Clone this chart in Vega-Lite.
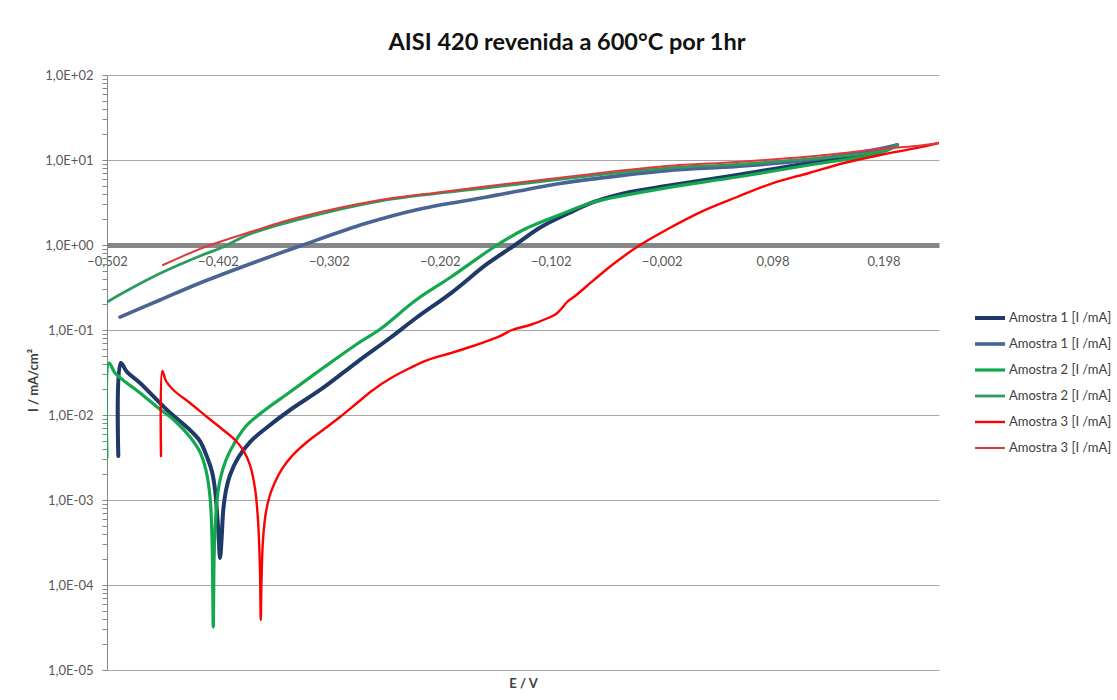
{
  "$schema": "https://vega.github.io/schema/vega-lite/v6.json",
  "width": 832,
  "height": 595,
  "autosize": {"type": "none"},
  "padding": {"left": 107, "top": 75, "right": 178, "bottom": 30},
  "background": "white",
  "config": {"view": {"stroke": null}, "font": "Lato"},
  "title": {
    "text": "AISI 420 revenida a 600°C por 1hr",
    "font": "Lato",
    "fontSize": 23.5,
    "fontWeight": "bold",
    "color": "#111111",
    "anchor": "middle",
    "frame": "group",
    "dx": 44,
    "offset": 15
  },
  "data": {
    "values": [
      {"s": "1a", "i": 1, "E": -0.4918, "I": 0.0033},
      {"s": "1a", "i": 2, "E": -0.4896, "I": 0.0409},
      {"s": "1a", "i": 3, "E": -0.484, "I": 0.0321},
      {"s": "1a", "i": 4, "E": -0.4722, "I": 0.0238},
      {"s": "1a", "i": 5, "E": -0.4479, "I": 0.01145},
      {"s": "1a", "i": 6, "E": -0.4272, "I": 0.00666},
      {"s": "1a", "i": 7, "E": -0.4182, "I": 0.00494},
      {"s": "1a", "i": 8, "E": -0.4118, "I": 0.00321},
      {"s": "1a", "i": 9, "E": -0.4073, "I": 0.00213},
      {"s": "1a", "i": 10, "E": -0.4046, "I": 0.00131},
      {"s": "1a", "i": 11, "E": -0.4017, "I": 0.000444},
      {"s": "1a", "i": 12, "E": -0.4001, "I": 0.000208},
      {"s": "1a", "i": 13, "E": -0.3986, "I": 0.000367},
      {"s": "1a", "i": 14, "E": -0.3972, "I": 0.000763},
      {"s": "1a", "i": 15, "E": -0.3947, "I": 0.00131},
      {"s": "1a", "i": 16, "E": -0.3911, "I": 0.00197},
      {"s": "1a", "i": 17, "E": -0.3839, "I": 0.00312},
      {"s": "1a", "i": 18, "E": -0.3731, "I": 0.00481},
      {"s": "1a", "i": 19, "E": -0.3596, "I": 0.00685},
      {"s": "1a", "i": 20, "E": -0.337, "I": 0.01145},
      {"s": "1a", "i": 21, "E": -0.3073, "I": 0.0208},
      {"s": "1a", "i": 22, "E": -0.2766, "I": 0.042},
      {"s": "1a", "i": 23, "E": -0.2469, "I": 0.0805},
      {"s": "1a", "i": 24, "E": -0.2234, "I": 0.1384},
      {"s": "1a", "i": 25, "E": -0.1919, "I": 0.272},
      {"s": "1a", "i": 26, "E": -0.1594, "I": 0.598},
      {"s": "1a", "i": 27, "E": -0.1369, "I": 0.947},
      {"s": "1a", "i": 28, "E": -0.1107, "I": 1.63},
      {"s": "1a", "i": 29, "E": -0.0855, "I": 2.38},
      {"s": "1a", "i": 30, "E": -0.063, "I": 3.21},
      {"s": "1a", "i": 31, "E": -0.0305, "I": 4.2},
      {"s": "1a", "i": 32, "E": 0.0019, "I": 4.94},
      {"s": "1a", "i": 33, "E": 0.066, "I": 6.66},
      {"s": "1a", "i": 34, "E": 0.1309, "I": 9.22},
      {"s": "1a", "i": 35, "E": 0.1949, "I": 12.4},
      {"s": "1a", "i": 36, "E": 0.2102, "I": 15.0},

      {"s": "1b", "i": 1, "E": 0.2102, "I": 15.0},
      {"s": "1b", "i": 2, "E": 0.1949, "I": 13.6},
      {"s": "1b", "i": 3, "E": 0.1309, "I": 10.0},
      {"s": "1b", "i": 4, "E": 0.066, "I": 8.4},
      {"s": "1b", "i": 5, "E": 0.0028, "I": 7.5},
      {"s": "1b", "i": 6, "E": -0.063, "I": 6.0},
      {"s": "1b", "i": 7, "E": -0.0936, "I": 5.3},
      {"s": "1b", "i": 8, "E": -0.1594, "I": 3.67},
      {"s": "1b", "i": 9, "E": -0.2198, "I": 2.65},
      {"s": "1b", "i": 10, "E": -0.2676, "I": 1.81},
      {"s": "1b", "i": 11, "E": -0.328, "I": 0.973},
      {"s": "1b", "i": 12, "E": -0.3731, "I": 0.598},
      {"s": "1b", "i": 13, "E": -0.4182, "I": 0.357},
      {"s": "1b", "i": 14, "E": -0.4542, "I": 0.2254},
      {"s": "1b", "i": 15, "E": -0.4903, "I": 0.142},

      {"s": "2a", "i": 1, "E": -0.502, "I": 0.00321},
      {"s": "2a", "i": 2, "E": -0.5002, "I": 0.0409},
      {"s": "2a", "i": 3, "E": -0.4948, "I": 0.0312},
      {"s": "2a", "i": 4, "E": -0.4876, "I": 0.0258},
      {"s": "2a", "i": 5, "E": -0.4722, "I": 0.01815},
      {"s": "2a", "i": 6, "E": -0.4569, "I": 0.01242},
      {"s": "2a", "i": 7, "E": -0.4407, "I": 0.0085},
      {"s": "2a", "i": 8, "E": -0.4272, "I": 0.00551},
      {"s": "2a", "i": 9, "E": -0.4182, "I": 0.00367},
      {"s": "2a", "i": 10, "E": -0.4128, "I": 0.00225},
      {"s": "2a", "i": 11, "E": -0.4091, "I": 0.00108},
      {"s": "2a", "i": 12, "E": -0.4073, "I": 0.000338},
      {"s": "2a", "i": 13, "E": -0.4062, "I": 0.000032},
      {"s": "2a", "i": 14, "E": -0.4055, "I": 0.000197},
      {"s": "2a", "i": 15, "E": -0.4046, "I": 0.000444},
      {"s": "2a", "i": 16, "E": -0.4028, "I": 0.001},
      {"s": "2a", "i": 17, "E": -0.4001, "I": 0.00172},
      {"s": "2a", "i": 18, "E": -0.3947, "I": 0.00296},
      {"s": "2a", "i": 19, "E": -0.3866, "I": 0.00481},
      {"s": "2a", "i": 20, "E": -0.3758, "I": 0.00762},
      {"s": "2a", "i": 21, "E": -0.3596, "I": 0.01145},
      {"s": "2a", "i": 22, "E": -0.337, "I": 0.01865},
      {"s": "2a", "i": 23, "E": -0.3073, "I": 0.0357},
      {"s": "2a", "i": 24, "E": -0.2766, "I": 0.0685},
      {"s": "2a", "i": 25, "E": -0.2559, "I": 0.102},
      {"s": "2a", "i": 26, "E": -0.2234, "I": 0.2254},
      {"s": "2a", "i": 27, "E": -0.1919, "I": 0.42},
      {"s": "2a", "i": 28, "E": -0.1531, "I": 0.947},
      {"s": "2a", "i": 29, "E": -0.127, "I": 1.5},
      {"s": "2a", "i": 30, "E": -0.0945, "I": 2.25},
      {"s": "2a", "i": 31, "E": -0.063, "I": 3.21},
      {"s": "2a", "i": 32, "E": 0.0019, "I": 4.69},
      {"s": "2a", "i": 33, "E": 0.066, "I": 6.31},
      {"s": "2a", "i": 34, "E": 0.1309, "I": 8.73},
      {"s": "2a", "i": 35, "E": 0.1949, "I": 12.1},
      {"s": "2a", "i": 36, "E": 0.2102, "I": 15.0},

      {"s": "2b", "i": 1, "E": 0.2102, "I": 15.0},
      {"s": "2b", "i": 2, "E": 0.1949, "I": 12.6},
      {"s": "2b", "i": 3, "E": 0.1309, "I": 10.3},
      {"s": "2b", "i": 4, "E": 0.066, "I": 8.9},
      {"s": "2b", "i": 5, "E": 0.0019, "I": 8.0},
      {"s": "2b", "i": 6, "E": -0.063, "I": 6.6},
      {"s": "2b", "i": 7, "E": -0.1594, "I": 4.7},
      {"s": "2b", "i": 8, "E": -0.2559, "I": 3.29},
      {"s": "2b", "i": 9, "E": -0.328, "I": 2.02},
      {"s": "2b", "i": 10, "E": -0.3731, "I": 1.35},
      {"s": "2b", "i": 11, "E": -0.3974, "I": 0.947},
      {"s": "2b", "i": 12, "E": -0.4182, "I": 0.743},
      {"s": "2b", "i": 13, "E": -0.4515, "I": 0.481},
      {"s": "2b", "i": 14, "E": -0.4813, "I": 0.304},
      {"s": "2b", "i": 15, "E": -0.502, "I": 0.2135},

      {"s": "3a", "i": 1, "E": -0.4533, "I": 0.0033},
      {"s": "3a", "i": 2, "E": -0.4521, "I": 0.0329},
      {"s": "3a", "i": 3, "E": -0.4488, "I": 0.0251},
      {"s": "3a", "i": 4, "E": -0.4422, "I": 0.01968},
      {"s": "3a", "i": 5, "E": -0.4272, "I": 0.01384},
      {"s": "3a", "i": 6, "E": -0.4118, "I": 0.00947},
      {"s": "3a", "i": 7, "E": -0.3972, "I": 0.00666},
      {"s": "3a", "i": 8, "E": -0.3866, "I": 0.00508},
      {"s": "3a", "i": 9, "E": -0.3794, "I": 0.00388},
      {"s": "3a", "i": 10, "E": -0.3731, "I": 0.00258},
      {"s": "3a", "i": 11, "E": -0.3686, "I": 0.00138},
      {"s": "3a", "i": 12, "E": -0.3659, "I": 0.000582},
      {"s": "3a", "i": 13, "E": -0.3641, "I": 0.00015},
      {"s": "3a", "i": 14, "E": -0.3634, "I": 0.0000387},
      {"s": "3a", "i": 15, "E": -0.3627, "I": 0.000115},
      {"s": "3a", "i": 16, "E": -0.3614, "I": 0.000338},
      {"s": "3a", "i": 17, "E": -0.3587, "I": 0.000722},
      {"s": "3a", "i": 18, "E": -0.3551, "I": 0.001145},
      {"s": "3a", "i": 19, "E": -0.3505, "I": 0.00163},
      {"s": "3a", "i": 20, "E": -0.3442, "I": 0.00232},
      {"s": "3a", "i": 21, "E": -0.3352, "I": 0.0033},
      {"s": "3a", "i": 22, "E": -0.3217, "I": 0.00481},
      {"s": "3a", "i": 23, "E": -0.3073, "I": 0.00666},
      {"s": "3a", "i": 24, "E": -0.292, "I": 0.00947},
      {"s": "3a", "i": 25, "E": -0.2766, "I": 0.01384},
      {"s": "3a", "i": 26, "E": -0.2622, "I": 0.01968},
      {"s": "3a", "i": 27, "E": -0.246, "I": 0.0272},
      {"s": "3a", "i": 28, "E": -0.2288, "I": 0.0357},
      {"s": "3a", "i": 29, "E": -0.2126, "I": 0.0444},
      {"s": "3a", "i": 30, "E": -0.1919, "I": 0.0536},
      {"s": "3a", "i": 31, "E": -0.1748, "I": 0.0631},
      {"s": "3a", "i": 32, "E": -0.1594, "I": 0.0742},
      {"s": "3a", "i": 33, "E": -0.1477, "I": 0.0849},
      {"s": "3a", "i": 34, "E": -0.1369, "I": 0.1},
      {"s": "3a", "i": 35, "E": -0.1207, "I": 0.1145},
      {"s": "3a", "i": 36, "E": -0.1044, "I": 0.1384},
      {"s": "3a", "i": 37, "E": -0.0972, "I": 0.1543},
      {"s": "3a", "i": 38, "E": -0.0918, "I": 0.1815},
      {"s": "3a", "i": 39, "E": -0.0873, "I": 0.2135},
      {"s": "3a", "i": 40, "E": -0.0801, "I": 0.251},
      {"s": "3a", "i": 41, "E": -0.063, "I": 0.388},
      {"s": "3a", "i": 42, "E": -0.0467, "I": 0.582},
      {"s": "3a", "i": 43, "E": -0.0215, "I": 1.0},
      {"s": "3a", "i": 44, "E": 0.0019, "I": 1.5},
      {"s": "3a", "i": 45, "E": 0.0335, "I": 2.45},
      {"s": "3a", "i": 46, "E": 0.066, "I": 3.67},
      {"s": "3a", "i": 47, "E": 0.0984, "I": 5.36},
      {"s": "3a", "i": 48, "E": 0.1309, "I": 7.03},
      {"s": "3a", "i": 49, "E": 0.1624, "I": 9.22},
      {"s": "3a", "i": 50, "E": 0.1949, "I": 11.45},
      {"s": "3a", "i": 51, "E": 0.2273, "I": 13.8},
      {"s": "3a", "i": 52, "E": 0.248, "I": 15.85},

      {"s": "3b", "i": 1, "E": 0.248, "I": 15.85},
      {"s": "3b", "i": 2, "E": 0.2273, "I": 14.6},
      {"s": "3b", "i": 3, "E": 0.1949, "I": 13.5},
      {"s": "3b", "i": 4, "E": 0.1624, "I": 12.1},
      {"s": "3b", "i": 5, "E": 0.1309, "I": 11.0},
      {"s": "3b", "i": 6, "E": 0.066, "I": 9.5},
      {"s": "3b", "i": 7, "E": 0.0019, "I": 8.5},
      {"s": "3b", "i": 8, "E": -0.063, "I": 6.9},
      {"s": "3b", "i": 9, "E": -0.1594, "I": 4.9},
      {"s": "3b", "i": 10, "E": -0.2072, "I": 4.1},
      {"s": "3b", "i": 11, "E": -0.2559, "I": 3.38},
      {"s": "3b", "i": 12, "E": -0.328, "I": 2.13},
      {"s": "3b", "i": 13, "E": -0.3731, "I": 1.42},
      {"s": "3b", "i": 14, "E": -0.4137, "I": 0.947},
      {"s": "3b", "i": 15, "E": -0.4515, "I": 0.582}
    ]
  },
  "mark": {"type": "line", "interpolate": "catmull-rom", "strokeJoin": "round", "strokeCap": "round", "clip": true},
  "encoding": {
    "x": {
      "field": "E",
      "type": "quantitative",
      "scale": {"domain": [-0.502, 0.248], "nice": false, "zero": false},
      "axis": {
        "values": [-0.502, -0.402, -0.302, -0.202, -0.102, -0.002, 0.098, 0.198],
        "labelExpr": "replace(format(datum.value, '.3f'), '.', ',')",
        "offset": -425,
        "domainColor": "#878787",
        "domainWidth": 5,
        "ticks": false,
        "grid": false,
        "labelPadding": 10,
        "labelFont": "Lato",
        "labelFontSize": 13,
        "labelColor": "#595959",
        "labelOverlap": false,
        "labelFlush": false,
        "title": "E / V",
        "titleFont": "Lato",
        "titleFontSize": 13,
        "titleFontWeight": "bold",
        "titleColor": "#404040",
        "titleX": 416,
        "titleY": 438,
        "titleBaseline": "middle",
        "titleAlign": "center"
      }
    },
    "y": {
      "field": "I",
      "type": "quantitative",
      "scale": {"type": "log", "domain": [0.00001, 100], "nice": false},
      "axis": {
        "values": [1e-5, 2e-5, 3e-5, 4e-5, 5e-5, 6e-5, 7e-5, 8e-5, 9e-5,
                   1e-4, 2e-4, 3e-4, 4e-4, 5e-4, 6e-4, 7e-4, 8e-4, 9e-4,
                   1e-3, 2e-3, 3e-3, 4e-3, 5e-3, 6e-3, 7e-3, 8e-3, 9e-3,
                   1e-2, 2e-2, 3e-2, 4e-2, 5e-2, 6e-2, 7e-2, 8e-2, 9e-2,
                   0.1, 0.2, 0.3, 0.4, 0.5, 0.6, 0.7, 0.8, 0.9,
                   1, 2, 3, 4, 5, 6, 7, 8, 9,
                   10, 20, 30, 40, 50, 60, 70, 80, 90, 100],
        "labelExpr": "abs(log(datum.value)/LN10 - round(log(datum.value)/LN10)) < 1e-6 ? '1,0E' + (round(log(datum.value)/LN10) >= 0 ? '+' : '-') + '0' + abs(round(log(datum.value)/LN10)) : ''",
        "labelOverlap": false,
        "grid": true,
        "gridColor": "#A8A8A8",
        "gridWidth": 1,
        "gridOpacity": {"condition": {"test": "abs(log(datum.value)/LN10 - round(log(datum.value)/LN10)) < 1e-6", "value": 1}, "value": 0},
        "domainColor": "#868686",
        "tickColor": "#868686",
        "tickSize": 5,
        "labelPadding": 9,
        "labelFont": "Lato",
        "labelFontSize": 13,
        "labelColor": "#595959",
        "title": "I / mA/cm²",
        "titleFont": "Lato",
        "titleFontSize": 13,
        "titleFontWeight": "bold",
        "titleColor": "#404040",
        "titleX": -74,
        "titleY": 305,
        "titleAngle": -90,
        "titleAlign": "center",
        "titleBaseline": "middle"
      }
    },
    "order": {"field": "i", "type": "quantitative"},
    "color": {
      "field": "s",
      "type": "nominal",
      "scale": {
        "domain": ["1a", "1b", "2a", "2b", "3a", "3b"],
        "range": ["#1F3A68", "#4A6594", "#12A84D", "#2E9A5C", "#FF0000", "#E0393D"]
      },
      "legend": {
        "title": null,
        "orient": "none",
        "legendX": 866,
        "legendY": 231,
        "labelExpr": "'Amostra ' + slice(datum.label, 0, 1) + ' [I /mA]'",
        "labelFont": "Lato",
        "labelFontSize": 13,
        "labelColor": "#404040",
        "symbolType": "stroke",
        "symbolSize": 900,
        "clipHeight": 24,
        "rowPadding": 2,
        "labelOffset": 2
      }
    },
    "strokeWidth": {
      "field": "s",
      "type": "nominal",
      "scale": {
        "domain": ["1a", "1b", "2a", "2b", "3a", "3b"],
        "range": [4, 2, 4, 2, 4.2, 2]
      }
    }
  }
}
